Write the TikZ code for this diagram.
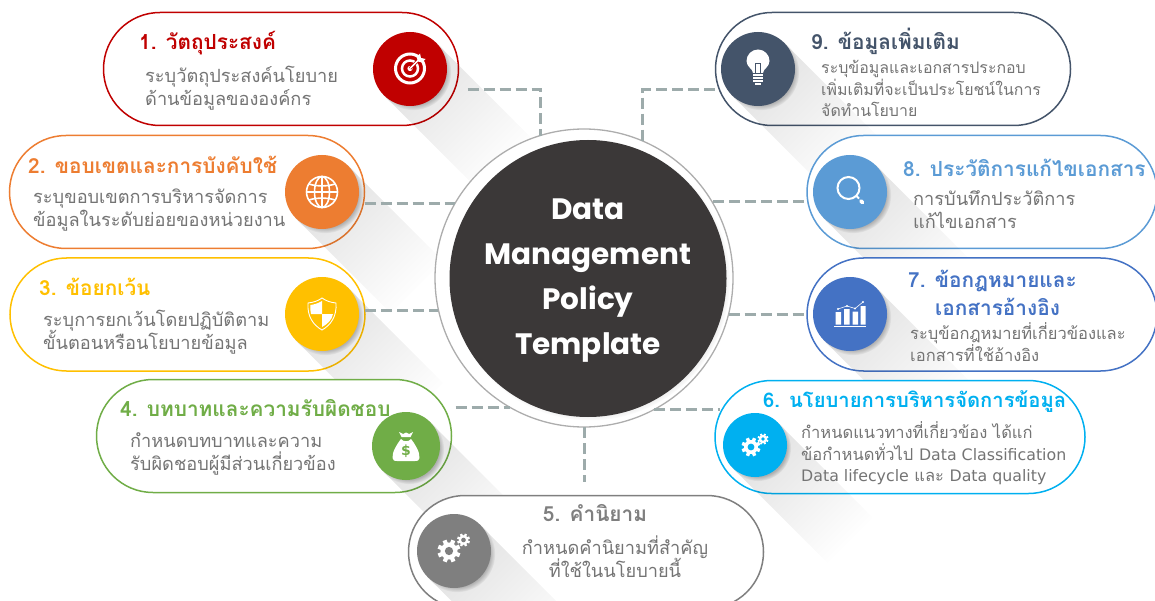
\documentclass[tikz,border=0pt]{standalone}
\usepackage{fontspec}
\usetikzlibrary{shapes.misc,shadows,fadings,calc}
\newfontfamily\thai[Script=Thai]{Loma}
\newfontfamily\hubfont{Poppins}
\newfontfamily\latn{DejaVu Sans}
\newcommand{\lat}[1]{{\latn\fontsize{15.8}{21.5}\selectfont #1}}
\setlength{\lineskiplimit}{-30pt}
\definecolor{cRed}{HTML}{C00000}
\definecolor{cOrange}{HTML}{ED7D31}
\definecolor{cYellow}{HTML}{FFC000}
\definecolor{cGreen}{HTML}{70AD47}
\definecolor{cGray}{HTML}{7F7F7F}
\definecolor{cCyan}{HTML}{00B0F0}
\definecolor{cBlue}{HTML}{4472C4}
\definecolor{cSky}{HTML}{5B9BD5}
\definecolor{cNavy}{HTML}{44546A}
\definecolor{cDash}{HTML}{9DABAB}
\definecolor{cBody}{HTML}{747474}
\definecolor{cHub}{HTML}{3B3838}
\tikzfading[name=shfade, top color=transparent!88, bottom color=transparent!100]
\tikzset{
 pill/.style={rounded rectangle, draw=#1, fill=white, line width=1.5pt, minimum width=355pt, minimum height=113pt, inner sep=0pt, outer sep=0pt},
 badge/.style={circle, fill=#1, inner sep=0pt, outer sep=0pt, minimum size=74pt, circular drop shadow={shadow xshift=3pt, shadow yshift=-3pt, shadow scale=1.03, opacity=.55}},
 conn/.style={draw=cDash, line width=3pt, dash pattern=on 11pt off 5pt},
 head/.style={anchor=west, inner sep=0pt, align=left, font=\thai\bfseries\fontsize{20.8}{28}\selectfont, text=#1},
 body/.style={anchor=west, inner sep=0pt, align=left, font=\thai\fontsize{18.2}{23}\selectfont, text=cBody},
 icon/.style={white, line width=1.6pt}
}
\newcommand{\cast}[4]{\begin{scope}[shift={(#1,#2)}]
 \pgfmathsetmacro{\tg}{.707*#3}
 \fill[black, path fading=shfade, fading angle=45] (\tg,-\tg) -- ({\tg+#4},{-\tg+#4}) -- ({-\tg+#4},{\tg+#4}) -- (-\tg,\tg) -- cycle;
\end{scope}}
\newcommand{\geartooth}[4]{%
 \fill[white] (#1,#2) circle[radius={0.74*#3}];
 \foreach \a in {0,45,...,315} \draw[white, line width={0.36*#3}] (#1,#2) -- ++(\a+22:#3);
 \fill[#4] (#1,#2) circle[radius={0.36*#3}];}
\begin{document}
\begin{tikzpicture}[x=1pt,y=-1pt]
\useasboundingbox (0,0) rectangle (1155,601);
\clip (0,0) rectangle (1155,601);
% pills, each with the shadow of its badge over it
\node[pill=cRed] (p1) at (281,69) {};
\cast{410}{69}{37}{95}
\node[pill=cOrange] (p2) at (187,192) {};
\cast{322}{192}{37}{95}
\node[pill=cYellow] (p3) at (187.5,314.5) {};
\cast{322}{314}{37}{95}
\node[pill=cGreen] (p4) at (274,436) {};
\cast{406}{446}{34}{95}
\node[pill=cNavy] (p9) at (893,69) {};
\cast{758}{69}{37}{95}
\node[pill=cSky, minimum width=350pt] (p8) at (982,192) {};
\cast{850}{192}{37}{95}
\node[pill=cBlue, minimum width=350pt] (p7) at (982,314.5) {};
\cast{850}{314}{37}{95}
\node[pill=cCyan, minimum width=370pt] (p6) at (900,437) {};
\cast{755}{445}{32}{95}
\node[pill=cGray] (p5) at (586,552) {};
\cast{454}{551}{37}{95}
% hub
\node[circle, draw=black!32, fill=white, line width=1.3pt, minimum size=298pt, inner sep=0pt, outer sep=0pt] (hubring) at (584,278) {};
% connector ends beside the pills
\coordinate (c1) at ([shift={(9,21)}]p1.east);
\coordinate (c2) at ([yshift=-12pt]p2.east);
\coordinate (c3) at ([yshift=4pt]p3.east);
\coordinate (c4) at ([shift={(4,-29)}]p4.east);
\coordinate (c5) at ([yshift=14pt]p5.north);
\coordinate (c6) at ([shift={(5,-28)}]p6.west);
\coordinate (c7) at ([shift={(-1,0)}]p7.west);
\coordinate (c8) at ([shift={(-1,10)}]p8.west);
\coordinate (c9) at ([shift={(-1,21)}]p9.west);
% connectors
\draw[conn] (c1) -| (hubring.107.5);
\draw[conn] (c2) -- (c2 -| hubring.150);
\draw[conn] (c3) -- (c3 -| hubring.192.4);
\draw[conn] (c4) -- (c4 -| hubring.240);
\draw[conn] (hubring.270) -- (hubring.270 |- c5);
\draw[conn] (c6 -| hubring.298.5) -- (c6);
\draw[conn] (c7 -| hubring.-14.4) -- (c7);
\draw[conn] (c8 -| hubring.30.7) -- (c8);
\draw[conn] (c9) -| (hubring.67.5);
\node[circle, fill=cHub, minimum size=277pt, inner sep=0pt, circular drop shadow={shadow xshift=2pt, shadow yshift=-2pt, shadow scale=1.01, opacity=.5}] (hub) at (588,278.5) {};
\node[align=center, text=white, inner sep=0pt, font=\hubfont\bfseries\fontsize{29.5}{45}\selectfont] (hubtext) at (588,277.5) {\strut Data\\\strut Management\\\strut Policy\\\strut Template};
% heading that passes under its badge
\node[head=cGreen] (h4) at (120,408) {4. บทบาทและความรับผิดชอบ};
% badges
\node[badge=cRed] (b1) at (410,69) {};
\node[badge=cOrange] (b2) at (322,192) {};
\node[badge=cYellow] (b3) at (322,314) {};
\node[badge=cGreen, minimum size=68pt] (b4) at (406,446) {};
\node[badge=cGray] (b5) at (454,551) {};
\node[badge=cCyan, minimum size=64pt] (b6) at (755,445) {};
\node[badge=cBlue] (b7) at (850,314) {};
\node[badge=cSky] (b8) at (850,192) {};
\node[badge=cNavy] (b9) at (758,69) {};
% icons
% target
\draw[icon, line width=3pt] (410,68.5) circle[radius=14.5pt];
\draw[icon, line width=2.5pt] (410,68.5) circle[radius=8pt];
\fill[white] (410,68.5) circle[radius=2.6pt];
\draw[cRed, line width=3pt] (410,68.5) -- (422,56.5);
\draw[icon, line width=1.6pt] (410,68.5) -- (419,59.5);
\fill[white] (416.5,57) -- (420,53.5) -- (421,58) -- (425.5,59) -- (422,62.5) -- (418,61.5) -- cycle;
% globe
\begin{scope}[shift={(322,192)}]
 \draw[icon] (0,0) circle[radius=15.5pt];
 \draw[icon] (0,0) ellipse[x radius=7.5pt, y radius=15.5pt];
 \draw[icon] (0,-15.5) -- (0,15.5);
 \draw[icon] (-15.5,0) -- (15.5,0);
 \draw[icon] (-13,-8) .. controls (-6,-5.5) and (6,-5.5) .. (13,-8);
 \draw[icon] (-13,8) .. controls (-6,5.5) and (6,5.5) .. (13,8);
\end{scope}
% shield
\begin{scope}[shift={(322,314)}]
 \draw[white, line width=.9pt] (0,-16) .. controls (4,-13) and (9,-11.5) .. (14,-11) .. controls (15,2) and (9,11) .. (0,16) .. controls (-9,11) and (-15,2) .. (-14,-11) .. controls (-9,-11.5) and (-4,-13) .. (0,-16) -- cycle;
 \fill[white] (0,-13) .. controls (-4,-10.5) and (-8,-9.5) .. (-11.5,-9) .. controls (-12,-5) and (-11.5,-3) .. (-11,0) -- (0,0) -- cycle;
 \fill[white] (0,0) -- (11,0) .. controls (10,6) and (5,10.5) .. (0,13) -- cycle;
\end{scope}
% money bag
\begin{scope}[shift={(406,446)}]
 \fill[white] (-5,-7) .. controls (-3,-4) and (3,-4) .. (5,-7) .. controls (9,-2) and (14,6) .. (13.5,12) .. controls (13.5,15) and (11,15) .. (9,15) -- (-9,15) .. controls (-11,15) and (-13.5,15) .. (-13.5,12) .. controls (-14,6) and (-9,-2) .. (-5,-7) -- cycle;
 \fill[white] (-7,-14) -- (-3,-12) -- (0,-13.5) -- (3,-12) -- (7,-14) -- (4.5,-9) -- (-4.5,-9) -- cycle;
 \node[inner sep=0pt, text=cGreen, font=\latn\bfseries\fontsize{14}{14}\selectfont] (dollar) at (0,5) {\$};
\end{scope}
% gears
\geartooth{449}{551}{11.5}{cGray}
\geartooth{463.5}{540}{6.5}{cGray}
\geartooth{751}{447}{9.5}{cCyan}
\geartooth{763}{439}{5.5}{cCyan}
% chart
\begin{scope}[shift={(850,314)}]
 \draw[white, line width=1pt] (-16,12) -- (16,12);
 \fill[white] (-14.5,-2) rectangle (-9,10.5) (-6,-5) rectangle (-.5,10.5) (2.5,-2.5) rectangle (8,10.5) (10.5,-8) rectangle (15.5,10.5);
 \draw[white, line width=.6pt] (-12,-5) -- (-3,-8) -- (5,-5.5) -- (13,-12);
 \fill[white] (-12,-5) circle[radius=1.1pt] (-3,-8) circle[radius=1.1pt] (5,-5.5) circle[radius=1.1pt] (13,-12) circle[radius=1.1pt];
\end{scope}
% magnifier
\draw[icon, line width=2pt] (848.5,188) circle[radius=11pt];
\draw[icon, line width=2pt] (856.5,196) -- (859,198.5);
\draw[white, line width=3.6pt, line cap=round] (861,201) -- (862.5,202.5);
% bulb
\begin{scope}[shift={(758,63)}]
 \fill[white] (-5,10) .. controls (-5,6) and (-11.5,4) .. (-11.5,-2) arc[start angle=180, end angle=0, radius=11.5pt] .. controls (11.5,4) and (5,6) .. (5,10) -- cycle;
 \draw[cNavy, line width=.8pt] (-2.5,10) -- (-2.5,0) -- (2.5,0) -- (2.5,10);
 \foreach \yy in {12,15,18} \draw[white, line width=2pt] (-5,\yy) -- (5,\yy);
 \draw[white, line width=2pt] (-3,21) -- (3,21);
\end{scope}
% texts
\node[head=cRed] (h1) at (139,43) {1. วัตถุประสงค์};
\node[body] (t1) at (145,89.5) {\strut ระบุวัตถุประสงค์นโยบาย\\\strut ด้านข้อมูลขององค์กร};
\node[head=cOrange] (h2) at (28,165) {2. ขอบเขตและการบังคับใช้};
\node[body] (t2) at (33,210.5) {\strut ระบุขอบเขตการบริหารจัดการ\\\strut ข้อมูลในระดับย่อยของหน่วยงาน};
\node[head=cYellow] (h3) at (39,287) {3. ข้อยกเว้น};
\node[body] (t3) at (43,333.5) {\strut ระบุการยกเว้นโดยปฏิบัติตาม\\\strut ขั้นตอนหรือนโยบายข้อมูล};
\node[body] (t4) at (130,454.5) {\strut กำหนดบทบาทและความ\\\strut รับผิดชอบผู้มีส่วนเกี่ยวข้อง};
\node[head=cGray, anchor=center] (h5) at (595,513) {5. คำนิยาม};
\node[body, anchor=center, align=center] (t5) at (615,560.5) {\strut กำหนดคำนิยามที่สำคัญ\\\strut ที่ใช้ในนโยบายนี้};
\node[head=cCyan, font=\thai\bfseries\fontsize{20.2}{28}\selectfont] (h6) at (763,402) {6. นโยบายการบริหารจัดการข้อมูล};
\node[body, font=\thai\fontsize{16.5}{21.5}\selectfont] (t6) at (801,455) {\strut กำหนดแนวทางที่เกี่ยวข้อง ได้แก่\\\strut ข้อกำหนดทั่วไป \lat{Data Classification}\\\strut \lat{Data lifecycle} และ \lat{Data quality}};
\node[head=cBlue] (h7) at (908,296) {\strut 7. ข้อกฎหมายและ\\\hspace*{27pt}\strut เอกสารอ้างอิง};
\node[body, font=\thai\fontsize{16.5}{22}\selectfont] (t7) at (910,345) {\strut ระบุข้อกฎหมายที่เกี่ยวข้องและ\\\strut เอกสารที่ใช้อ้างอิง};
\node[head=cSky] (h8) at (903,168) {8. ประวัติการแก้ไขเอกสาร};
\node[body] (t8) at (913,212.5) {\strut การบันทึกประวัติการ\\\strut แก้ไขเอกสาร};
\node[head=cNavy] (h9) at (811,41) {9. ข้อมูลเพิ่มเติม};
\node[body, font=\thai\fontsize{15.9}{21.5}\selectfont] (t9) at (821,91) {\strut ระบุข้อมูลและเอกสารประกอบ\\\strut เพิ่มเติมที่จะเป็นประโยชน์ในการ\\\strut จัดทำนโยบาย};
\end{tikzpicture}
\end{document}
